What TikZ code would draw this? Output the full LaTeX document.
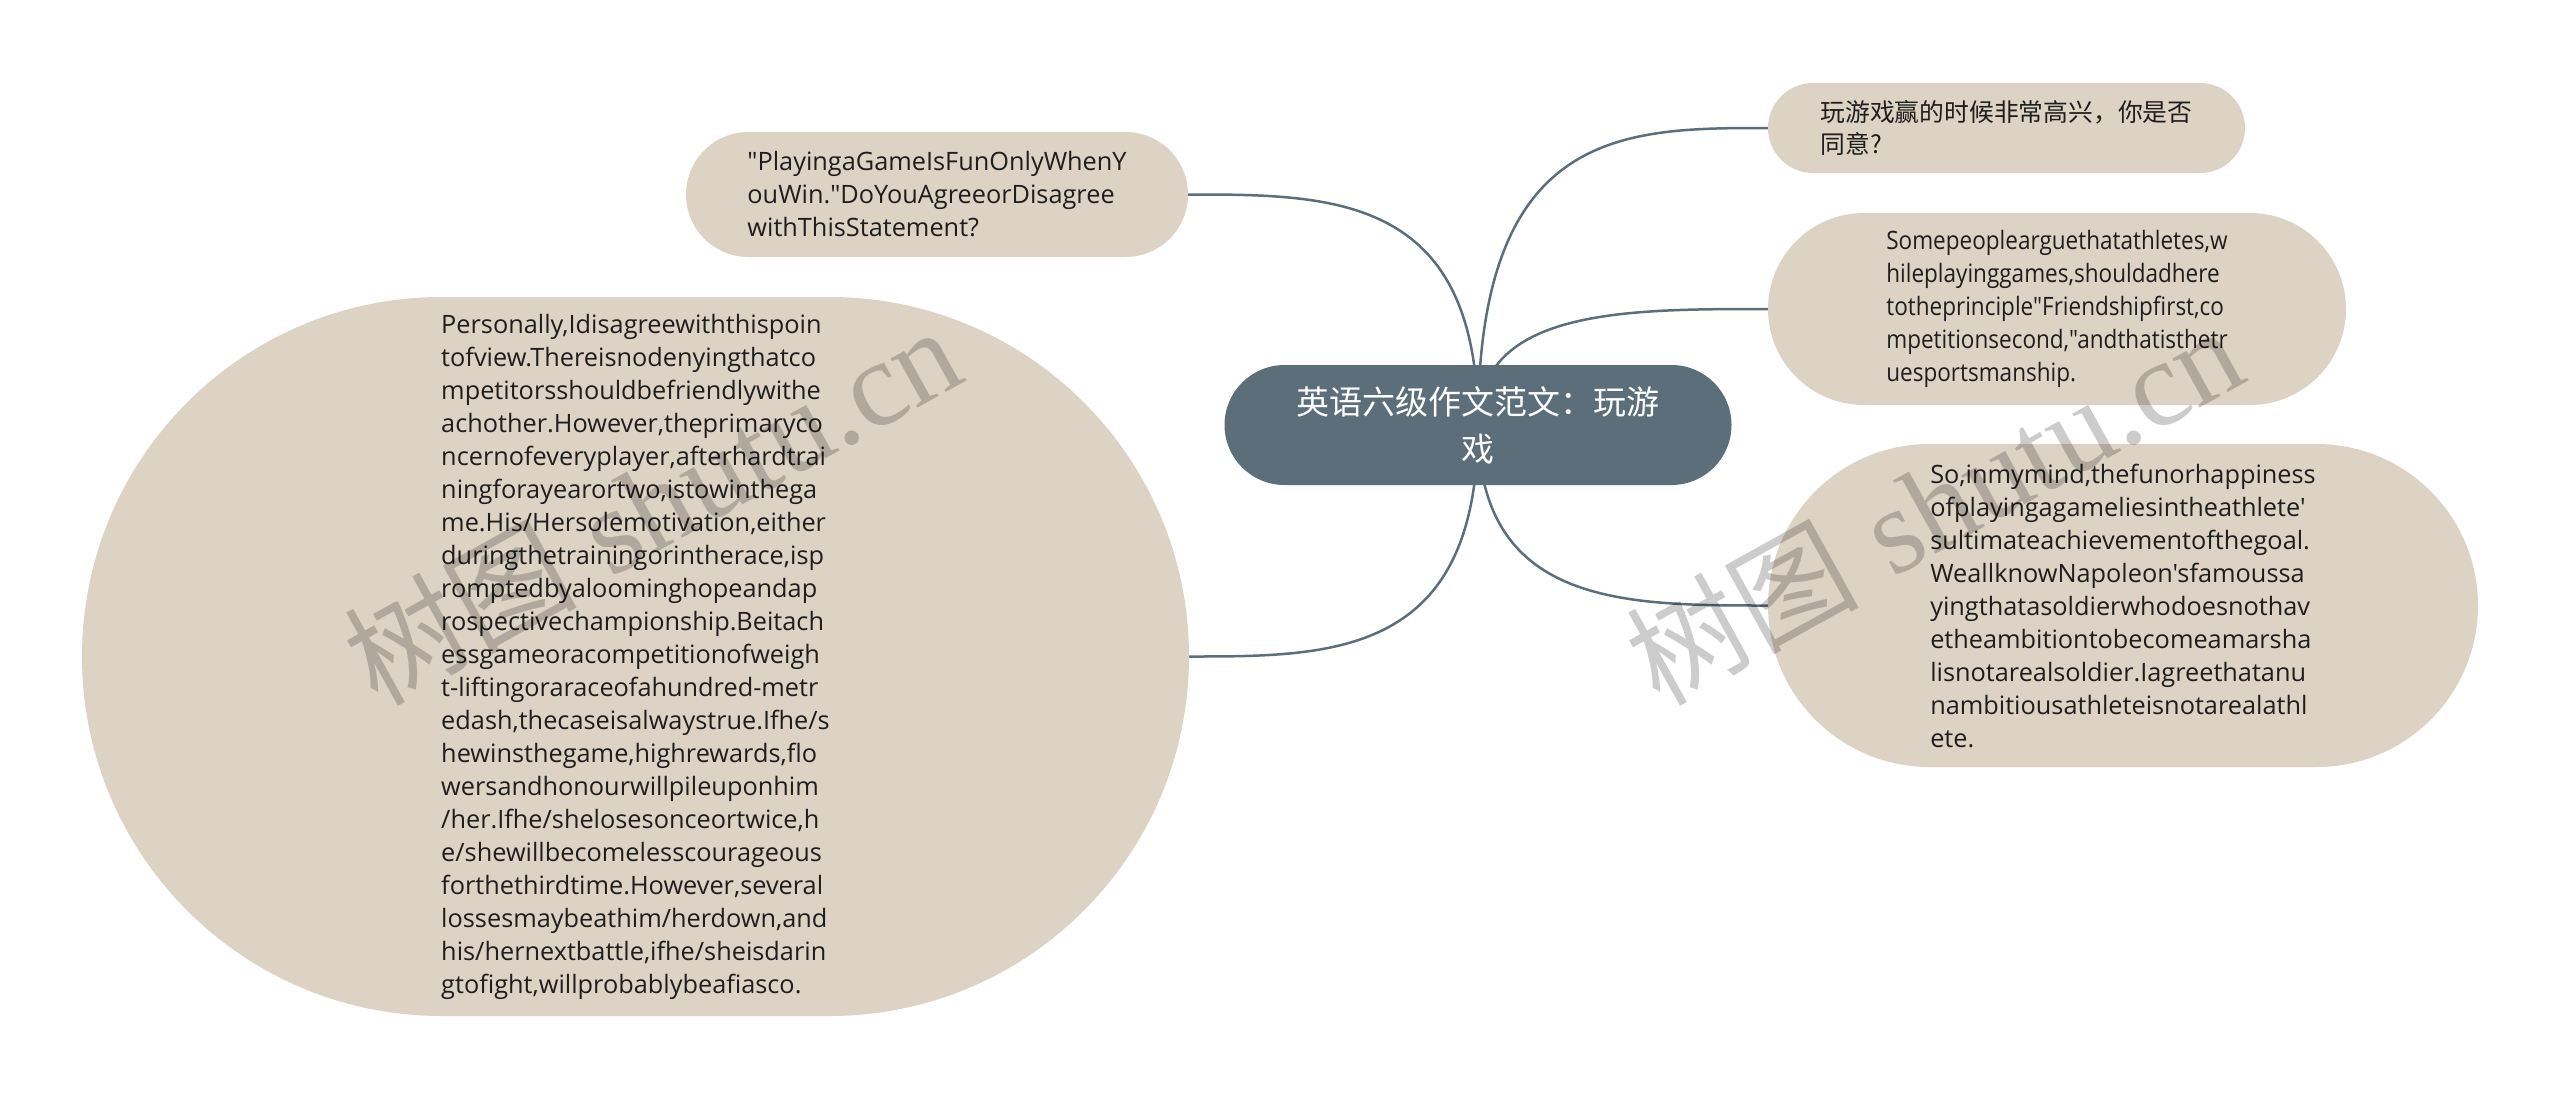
\documentclass[tikz,border=0pt]{standalone}
\usepackage{fontspec}
\setmainfont{Open Sans}[Ligatures=TeXOff]
\newfontfamily\narrowfont{Open Sans}[Ligatures=TeXOff,FakeStretch=0.89]
\newfontfamily\cjk{Noto Sans CJK SC}
\newfontfamily\wmserif{Liberation Serif}
\usetikzlibrary{backgrounds,calc}
\definecolor{beige}{HTML}{DDD3C4}
\definecolor{slate}{HTML}{5B6E7A}
\definecolor{ink}{HTML}{1E1E1E}
\newcommand{\engtext}{\fontsize{25.3}{33}\selectfont}
\newcommand{\narrowtext}{\narrowfont\fontsize{25.3}{33}\selectfont}
\newcommand{\cjktext}{\cjk\fontsize{24.8}{32}\selectfont}
\newcommand{\roottext}{\cjk\fontsize{33}{47}\selectfont}
\newcommand{\wmtext}{{\cjk\fontsize{116}{116}\selectfont 树图}\hspace{34pt}{\wmserif\fontsize{122}{122}\selectfont shutu.cn}}
\begin{document}
\begin{tikzpicture}[x=1pt,y=-1pt,
  leaf/.style={fill=beige, text=ink, align=left, inner sep=0pt, font=\engtext},
  rootbox/.style={fill=slate, text=white, align=center, inner sep=0pt, font=\roottext},
  edge/.style={draw=slate, line width=2.5pt},
  wmark/.style={text=black, opacity=0.2, rotate=29, inner sep=0pt}]
\useasboundingbox (0,0) rectangle (2560,1101);

\node[rootbox, minimum width=507pt, minimum height=120pt, rounded corners=60pt] (root) at (1478,425)
  {英语六级作文范文：玩游\\戏};

\node[leaf, minimum width=502pt, minimum height=125pt, rounded corners=62.5pt] (tl) at (937,194.5)
  {"PlayingaGameIsFunOnlyWhenY\\ouWin."DoYouAgreeorDisagree\\withThisStatement?};

\node[leaf, minimum width=1107pt, minimum height=719pt, rounded corners=359.5pt] (bl) at (635.5,656.5)
  {Personally,Idisagreewiththispoin\\
   tofview.Thereisnodenyingthatco\\
   mpetitorsshouldbefriendlywithe\\
   achother.However,theprimaryco\\
   ncernofeveryplayer,afterhardtrai\\
   ningforayearortwo,istowinthega\\
   me.His/Hersolemotivation,either\\
   duringthetrainingorintherace,isp\\
   romptedbyaloominghopeandap\\
   rospectivechampionship.Beitach\\
   essgameoracompetitionofweigh\\
   t-liftingoraraceofahundred-metr\\
   edash,thecaseisalwaystrue.Ifhe/s\\
   hewinsthegame,highrewards,flo\\
   wersandhonourwillpileuponhim\\
   /her.Ifhe/shelosesonceortwice,h\\
   e/shewillbecomelesscourageous\\
   forthethirdtime.However,several\\
   lossesmaybeathim/herdown,and\\
   his/hernextbattle,ifhe/sheisdarin\\
   gtofight,willprobablybeafiasco.};

\node[leaf, font=\cjktext, minimum width=477pt, minimum height=90pt, rounded corners=45pt] (r1) at (2006.5,128)
  {玩游戏赢的时候非常高兴，你是否\\同意?};

\node[leaf, font=\narrowtext, minimum width=578pt, minimum height=192pt, rounded corners=96pt] (r2) at (2057,309)
  {Somepeoplearguethatathletes,w\\
   hileplayinggames,shouldadhere\\
   totheprinciple"Friendshipfirst,co\\
   mpetitionsecond,"andthatisthetr\\
   uesportsmanship.};

\node[leaf, minimum width=710pt, minimum height=323pt, rounded corners=161.5pt] (r3) at (2123,605.5)
  {So,inmymind,thefunorhappiness\\
   ofplayingagameliesintheathlete'\\
   sultimateachievementofthegoal.\\
   WeallknowNapoleon'sfamoussa\\
   yingthatasoldierwhodoesnothav\\
   etheambitiontobecomeamarsha\\
   lisnotarealsoldier.Iagreethatanu\\
   nambitiousathleteisnotarealathl\\
   ete.};

\begin{scope}[on background layer]
  \draw[edge] let \p1=(root.center), \p2=(tl.east) in
    (\p1) .. controls (\x1,\y2) and ({(\x1+\x2)/2},\y2) .. (\p2);
  \draw[edge] let \p1=(root.center), \p2=(bl.east) in
    (\p1) .. controls (\x1,\y2) and ({(\x1+\x2)/2},\y2) .. (\p2);
  \draw[edge] let \p1=(root.center), \p2=(r1.west) in
    (\p1) .. controls (\x1,\y2) and ({(\x1+\x2)/2},\y2) .. (\p2);
  \draw[edge] let \p1=(root.center), \p2=(r2.west) in
    (\p1) .. controls (\x1,\y2) and ({(\x1+\x2)/2},\y2) .. (\p2);
  \draw[edge] let \p1=(root.center), \p2=(r3.west) in
    (\p1) .. controls (\x1,\y2) and ({(\x1+\x2)/2},\y2) .. (\p2);
\end{scope}

\node[wmark] (wm1) at (652,505) {\wmtext};
\node[wmark] (wm2) at (1934,505) {\wmtext};
\end{tikzpicture}
\end{document}
